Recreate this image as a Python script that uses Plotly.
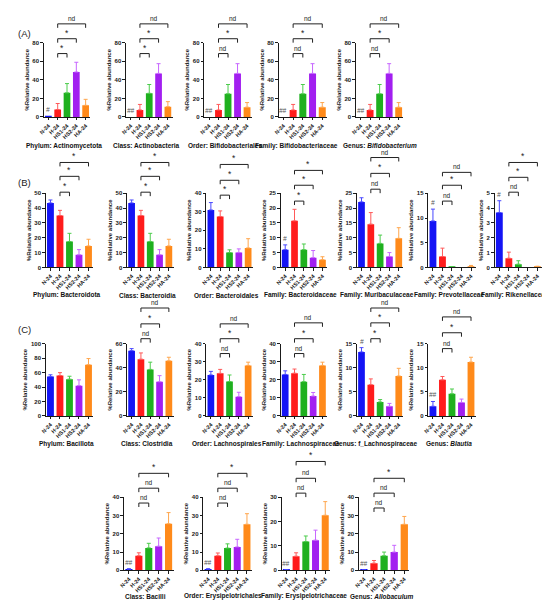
import plotly.graph_objects as go

groups = ["N-24", "H-24", "HS1-24", "HS2-24", "HA-24"]
bar_colors = ["#1414f5", "#ff1c1c", "#1fb01f", "#a21ff0", "#ff8a1a"]
err_colors = ["#4848ff", "#ff5a5a", "#4ccc4c", "#c766ff", "#ffa64d"]

# mean % relative abundance and SEM for each group (N, H, HS1, HS2, HA)
actinomycetota = [0.5, 8, 26, 48.5, 12.5]
actinomycetota_sem = [0, 6.5, 10, 10.5, 6.5]
actinobacteria = [0, 7.5, 25.5, 47, 11]
actinobacteria_sem = [0, 6, 9.5, 10.5, 5.5]
bifidobacteriales = [0, 7.5, 25, 47, 10.5]
bifidobacteriales_sem = [0, 6, 10, 10.5, 5]
bifidobacteriaceae = [0, 7.5, 25, 47, 10.5]
bifidobacteriaceae_sem = [0, 6, 10, 10.5, 5]
bifidobacterium = [0, 7.5, 25, 47, 10.5]
bifidobacterium_sem = [0, 6, 10, 10.5, 5]

bacteroidota = [43.5, 35, 17.5, 8.5, 14.5]
bacteroidota_sem = [2, 3.5, 5.5, 3.5, 4.5]
bacteroidia = [43.5, 35, 17.5, 8.5, 14.5]
bacteroidia_sem = [2, 3.5, 5.5, 3.5, 4.5]
bacteroidales = [31, 27.5, 8, 8, 10.5]
bacteroidales_sem = [4, 3, 1.5, 2, 5]
bacteroidaceae = [6, 15.7, 6, 3.3, 2.6]
bacteroidaceae_sem = [1.6, 3.9, 1.9, 2.4, 1.0]
muribaculaceae = [22.1, 14.6, 8.1, 3.7, 9.8]
muribaculaceae_sem = [1.4, 3.9, 2.8, 1.3, 3.6]
prevotellaceae = [9.4, 2.2, 0.1, 0, 0.2]
prevotellaceae_sem = [2.4, 1.7, 0.05, 0, 0.2]
rikenellaceae = [3.7, 0.62, 0.22, 0, 0.05]
rikenellaceae_sem = [0.8, 0.41, 0.23, 0, 0.03]

bacillota = [54.5, 56, 51, 42, 71]
bacillota_sem = [2.5, 4, 4, 8, 8.5]
clostridia = [54.3, 47.2, 38.7, 28.4, 45.8]
clostridia_sem = [1.7, 5.2, 6, 5.1, 3]
lachnospirales = [22.7, 23.6, 19.1, 10.7, 28]
lachnospirales_sem = [2, 2.2, 3.6, 2.4, 1.8]
lachnospiraceae = [23, 23.7, 19, 11, 28]
lachnospiraceae_sem = [2, 2.3, 4, 2, 1.8]
f_lachnospiraceae = [13.3, 6.5, 2.9, 2.0, 8.3]
f_lachnospiraceae_sem = [0.9, 1.2, 0.5, 0.6, 1.6]
blautia = [2.0, 7.5, 4.6, 2.8, 11.2]
blautia_sem = [1.0, 0.7, 1.0, 0.7, 1.0]

bacilli = [0.6, 8.0, 12.3, 13.2, 25.5]
bacilli_sem = [0.3, 1.6, 2.5, 4.5, 6.1]
erysipelotrichales = [0.6, 8.0, 12.2, 12.8, 25.2]
erysipelotrichales_sem = [0.3, 1.5, 2.3, 4.2, 5.8]
erysipelotrichaceae = [0.2, 5.8, 11.8, 12.4, 22.6]
erysipelotrichaceae_sem = [0.1, 1.4, 2.3, 4.1, 5.6]
allobaculum = [0.2, 3.9, 8.0, 10.0, 25.2]
allobaculum_sem = [0.1, 1.5, 2.0, 3.7, 4.3]

# H-24 vs HS1-24, H-24 vs HS2-24, H-24 vs HA-24
panels = [
    # row, title, mean, sem, y max, tick step, mark over N-24, significance
    ("A", "Phylum: Actinomycetota", actinomycetota, actinomycetota_sem, 80, 20, "#", ["*", "*", "nd"]),
    ("A", "Class: Actinobacteria", actinobacteria, actinobacteria_sem, 80, 20, "##", ["*", "*", "nd"]),
    ("A", "Order: Bifidobacteriales", bifidobacteriales, bifidobacteriales_sem, 80, 20, "##", ["nd", "*", "nd"]),
    ("A", "Family: Bifidobacteriaceae", bifidobacteriaceae, bifidobacteriaceae_sem, 80, 20, "##", ["nd", "*", "nd"]),
    ("A", "Genus: <i>Bifidobacterium</i>", bifidobacterium, bifidobacterium_sem, 80, 20, "##", ["nd", "*", "nd"]),
    ("B", "Phylum: Bacteroidota", bacteroidota, bacteroidota_sem, 50, 10, "", ["*", "*", "*"]),
    ("B", "Class: Bacteroidia", bacteroidia, bacteroidia_sem, 50, 10, "", ["*", "*", "*"]),
    ("B", "Order: Bacteroidales", bacteroidales, bacteroidales_sem, 40, 10, "", ["*", "*", "*"]),
    ("B", "Family: Bacteroidaceae", bacteroidaceae, bacteroidaceae_sem, 25, 5, "#", ["*", "*", "*"]),
    ("B", "Family: Muribaculaceae", muribaculaceae, muribaculaceae_sem, 25, 5, "", ["nd", "*", "nd"]),
    ("B", "Family: Prevotellaceae", prevotellaceae, prevotellaceae_sem, 15, 5, "#", ["nd", "*", "nd"]),
    ("B", "Family: Rikenellaceae", rikenellaceae, rikenellaceae_sem, 5, 1, "#", ["nd", "*", "*"]),
    ("C", "Phylum: Bacillota", bacillota, bacillota_sem, 100, 20, "", []),
    ("C", "Class: Clostridia", clostridia, clostridia_sem, 60, 20, "", ["nd", "*", "nd"]),
    ("C", "Order: Lachnospirales", lachnospirales, lachnospirales_sem, 40, 10, "", ["nd", "*", "nd"]),
    ("C", "Family: Lachnospiraceae", lachnospiraceae, lachnospiraceae_sem, 40, 10, "", ["nd", "*", "nd"]),
    ("C", "Genus: f_Lachnospiraceae", f_lachnospiraceae, f_lachnospiraceae_sem, 15, 5, "#", ["*", "*", "nd"]),
    ("C", "Genus: <i>Blautia</i>", blautia, blautia_sem, 15, 5, "##", ["nd", "*", "nd"]),
    ("D", "Class: Bacilli", bacilli, bacilli_sem, 40, 10, "##", ["nd", "nd", "*"]),
    ("D", "Order: Erysipelotrichales", erysipelotrichales, erysipelotrichales_sem, 40, 10, "##", ["nd", "nd", "*"]),
    ("D", "Family: Erysipelotrichaceae", erysipelotrichaceae, erysipelotrichaceae_sem, 30, 10, "##", ["nd", "nd", "*"]),
    ("D", "Genus: <i>Allobaculum</i>", allobaculum, allobaculum_sem, 40, 10, "##", ["nd", "nd", "*"]),
]

# ---- layout (pixels of the 550x601 picture) ----
W, H = 550, 601
row_y = {"A": (32, 107), "B": (184, 259), "C": (336, 409), "D": (491, 565)}
row_title_y = {"A": 136, "B": 287, "C": 437, "D": 591}
row_x = {
    "A": [(31, 78), (114, 161), (193, 241), (268, 317), (346, 394)],
    "B": [(33, 81), (115, 162), (195, 242), (270, 317), (347, 394), (419, 467), (486, 534)],
    "C": [(33, 81), (115, 162), (195, 242), (270, 317), (347, 394), (419, 467)],
    "D": [(112, 162), (192, 241), (271, 320), (349, 400)],
}
# small nudges of a caption centre, where neighbours would touch
caption_dx = [0, 0, 0, -3, 3, 0, 0, 0, 0, 0, 0, 0, 0, 0, 0, 0, -2, 0, 0, -2, 1, 0]
bracket_px = [
    [43, 28, 13], [43, 28, 13], [43, 28, 13], [43, 28, 13], [43, 28, 13],
    [183, 167, 153], [183, 167, 153], [186, 171, 155], [192, 176, 161],
    [180, 164, 148], [192, 176, 163], [183, 168, 153],
    [], [331, 316, 300], [346, 331, 316], [346, 331, 315], [331, 315, 300], [341, 325, 309],
    [497, 482, 467], [497, 482, 467], [487, 472, 455], [502, 487, 472],
]

FONT = "Liberation Sans, Arial, sans-serif"
INK = "#1a1a1a"


def fy(p):
    return 1 - p / H


fig = go.Figure()
row_count = {"A": 0, "B": 0, "C": 0, "D": 0}

for i, (row, title, mean, sem, ymax, step, mark, sig) in enumerate(panels):
    n = i + 1
    sfx = "" if n == 1 else str(n)
    xa, ya = "x" + sfx, "y" + sfx
    x0, x1 = row_x[row][row_count[row]]
    row_count[row] += 1
    ytop, ybot = row_y[row]

    for g in range(5):
        fig.add_trace(go.Bar(
            x=[g], y=[mean[g]], width=0.72,
            marker=dict(color=bar_colors[g], line_width=0),
            error_y=dict(type="data", symmetric=False, array=[sem[g]], arrayminus=[0],
                         visible=sem[g] > 0, color=err_colors[g], thickness=1, width=2),
            xaxis=xa, yaxis=ya, showlegend=False, hoverinfo="skip"))

    fig.update_layout(**{
        "xaxis" + sfx: dict(
            domain=[x0 / W, x1 / W], anchor=ya, range=[-0.5, 4.5],
            tickvals=list(range(5)), ticktext=groups, tickangle=-45,
            showline=True, linecolor=INK, linewidth=1, ticks="outside",
            ticklen=2.5, tickwidth=1, tickcolor=INK, showgrid=False, zeroline=False,
            tickfont=dict(family=FONT, size=5.5, color=INK, weight="bold")),
        "yaxis" + sfx: dict(
            domain=[fy(ybot), fy(ytop)], anchor=xa, range=[0, ymax * 1.002],
            tick0=0, dtick=step, showline=True, linecolor=INK, linewidth=1,
            ticks="outside", ticklen=2.5, tickwidth=1, tickcolor=INK,
            showgrid=False, zeroline=False,
            tickfont=dict(family=FONT, size=6, color=INK, weight="bold"),
            title=dict(text="%Relative abundance", standoff=2,
                       font=dict(family=FONT, size=6, color=INK, weight="bold"))),
    })

    # group mark above N-24
    if mark:
        fig.add_annotation(x=0, y=mean[0] + sem[0], xref=xa, yref=ya, text=mark,
                           showarrow=False, yanchor="bottom", yshift=1,
                           font=dict(family=FONT, size=6.5, color="#555", style="italic"))

    # significance brackets from H-24
    for k, label in enumerate(sig):
        target = k + 2
        yp = bracket_px[i][k]
        fig.add_shape(type="path", xref=xa, yref="paper",
                      path=f"M 1,{fy(yp + 4)} L 1,{fy(yp)} L {target},{fy(yp)} L {target},{fy(yp + 4)}",
                      line=dict(color="#222", width=1))
        fig.add_annotation(x=(1 + target) / 2, y=fy(yp), xref=xa, yref="paper",
                           text=label, showarrow=False, yanchor="bottom",
                           yshift=-1 if label == "*" else 0,
                           font=dict(family=FONT, size=8.5 if label == "*" else 6.5, color="#222"))

    # panel caption
    fig.add_annotation(x=((x0 + x1) / 2 - 3 + caption_dx[i]) / W, y=fy(row_title_y[row]),
                       xref="paper", yref="paper",
                       text=title, showarrow=False, xanchor="center", yanchor="middle",
                       font=dict(family=FONT, size=6.5, color="#111", weight="bold"))

for letter, yp in [("(A)", 23), ("(B)", 173), ("(C)", 322)]:
    fig.add_annotation(x=3 / W, y=fy(yp), xref="paper", yref="paper", text=letter,
                       showarrow=False, xanchor="left", yanchor="middle",
                       font=dict(family=FONT, size=9.5, color="#222"))

fig.update_layout(
    width=W, height=H, barmode="overlay",
    margin=dict(l=0, r=0, t=0, b=0),
    paper_bgcolor="white", plot_bgcolor="white",
    font=dict(family=FONT),
)

fig.write_html("out.html")
